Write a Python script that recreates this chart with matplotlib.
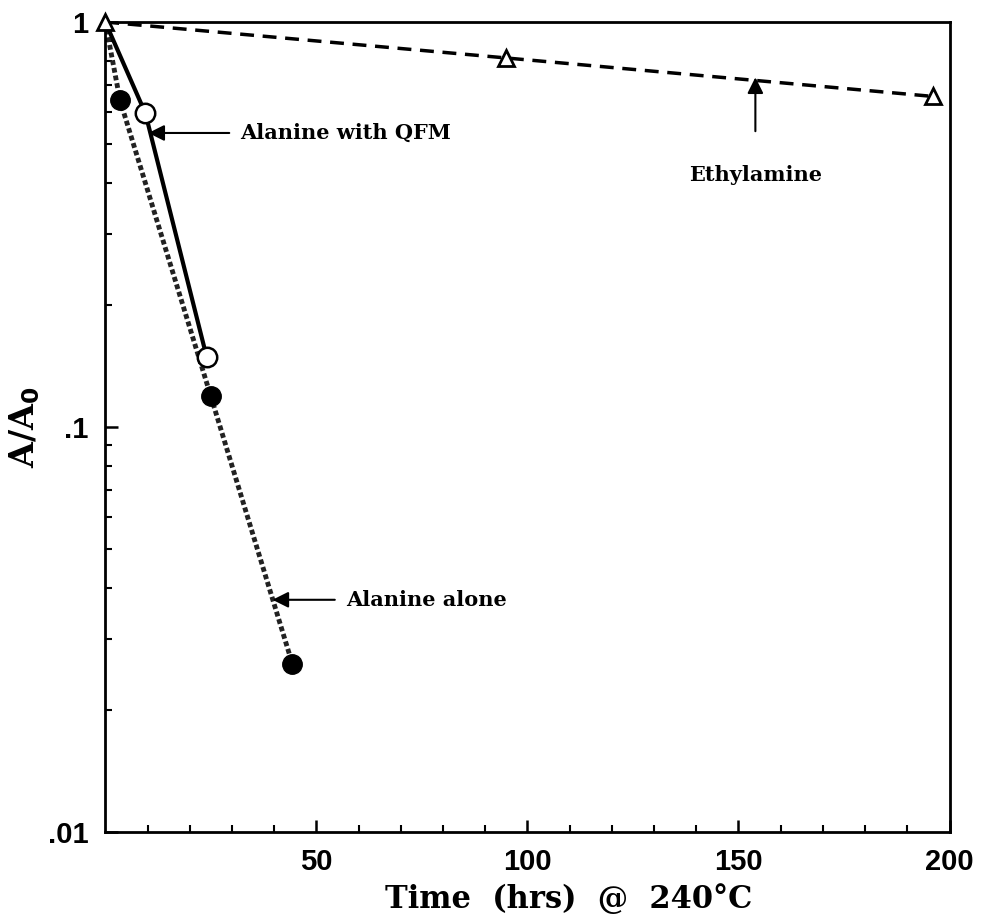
import matplotlib
matplotlib.use("Agg")
import matplotlib.pyplot as plt
from matplotlib.ticker import FixedLocator, NullFormatter, LogLocator

# Data
eth_x = [0, 95, 196]
eth_y = [1.0, 0.815, 0.655]
qfm_x = [0, 9.5, 24]
qfm_y = [1.0, 0.595, 0.149]
alone_x = [0, 3.5, 25, 44.3]
alone_y = [1.0, 0.64, 0.119, 0.026]

x_ticks = [50, 100, 150, 200]
x_ticklabels = ["50", "100", "150", "200"]
y_ticks = [0.01, 0.1, 1]
y_ticklabels = [".01", ".1", "1"]

serif = "DejaVu Serif"
tickfont = "Liberation Sans"

fig = plt.figure(figsize=(9.84, 9.17), dpi=100)
ax = fig.add_axes([0.107, 0.093, 0.858, 0.883])
ax.set_yscale("log")
ax.set_xlim(0, 200)
ax.set_ylim(0.01, 1)

ax.plot(alone_x, alone_y, color="#222222", linestyle=(0, (1, 0.6)), lw=3.5, zorder=2)
ax.plot(alone_x[1:], alone_y[1:], 'o', color="black", ms=14, zorder=4)
ax.plot(qfm_x, qfm_y, color="black", lw=3, zorder=2)
ax.plot(qfm_x[1:], qfm_y[1:], 'o', mfc="white", mec="black", mew=1.8, ms=14, zorder=4)
ax.plot(eth_x, eth_y, color="black", linestyle=(0, (4, 2.5)), lw=2.5, zorder=2)
ax.plot(eth_x, eth_y, '^', mfc="white", mec="black", mew=2, ms=12, zorder=5, clip_on=False)

for s in ax.spines.values():
    s.set_linewidth(2)

ax.xaxis.set_major_locator(FixedLocator(x_ticks))
ax.set_xticklabels(x_ticklabels)
ax.xaxis.set_minor_locator(FixedLocator(list(range(10, 200, 10))))
ax.yaxis.set_major_locator(FixedLocator(y_ticks))
ax.set_yticklabels(y_ticklabels)
ax.yaxis.set_minor_locator(LogLocator(base=10, subs=range(2, 10)))
ax.yaxis.set_minor_formatter(NullFormatter())
ax.tick_params(which="major", direction="in", length=9, width=1.8, pad=12,
               top=False, right=False)
ax.tick_params(which="minor", direction="in", length=5, width=1.5,
               top=False, right=False)
for lab in ax.get_xticklabels() + ax.get_yticklabels():
    lab.set_fontfamily(tickfont)
    lab.set_fontweight("bold")
    lab.set_fontsize(21)

ax.set_xlabel("Time  (hrs)  @  240°C", fontfamily=serif, fontweight="bold",
              fontsize=22)
ax.xaxis.set_label_coords(0.549, -0.064)
ax.set_ylabel(r"A/A$_{\mathbf{0}}$", fontfamily=serif, fontweight="bold",
              fontsize=24)
ax.yaxis.set_label_coords(-0.075, 0.5)

ap = dict(arrowstyle="-|>", color="black", lw=1.5, mutation_scale=24, shrinkA=6, shrinkB=0)
ax.annotate("Alanine with QFM", xy=(10.2, 0.532), xytext=(32, 0.532),
            fontfamily=serif, fontweight="bold", fontsize=15, va="center",
            ha="left", arrowprops=ap)
ax.annotate("Alanine alone", xy=(39.6, 0.0374), xytext=(57, 0.0374),
            fontfamily=serif, fontweight="bold", fontsize=15, va="center",
            ha="left", arrowprops=ap)
ax.annotate("Ethylamine", xy=(154, 0.73), xytext=(154, 0.42),
            fontfamily=serif, fontweight="bold", fontsize=15, va="center",
            ha="center", arrowprops=dict(ap, shrinkA=22))

fig.savefig("out.png", dpi=100)
